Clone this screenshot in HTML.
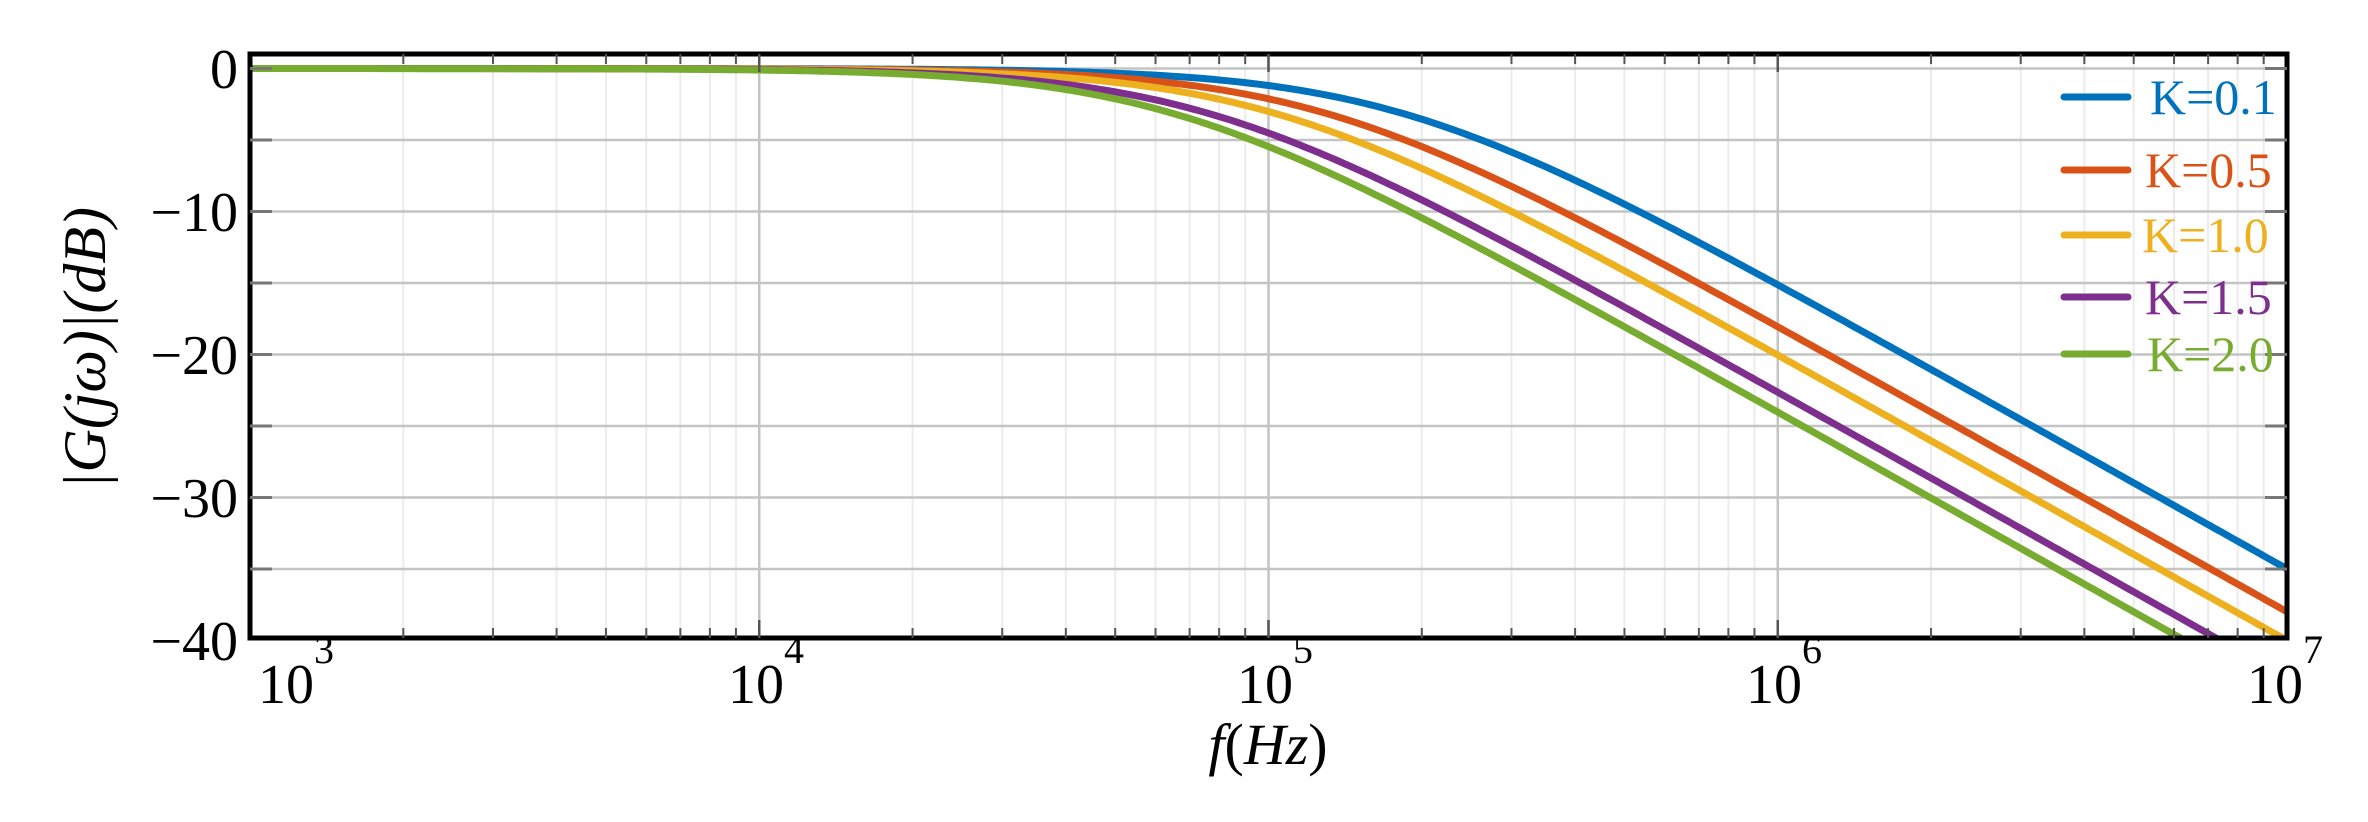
<!DOCTYPE html>
<html><head><meta charset="utf-8"><style>
html,body{margin:0;padding:0;background:#fff;}
svg{display:block;}
text{font-family:"Liberation Serif",serif;}
</style></head><body>
<svg id="s" width="2368" height="822" viewBox="0 0 2368 822" xmlns="http://www.w3.org/2000/svg">
<defs><clipPath id="c"><rect x="250" y="54" width="2037" height="584"/></clipPath></defs>
<g id="grid"></g>
<g id="curves" clip-path="url(#c)"></g>
<rect x="250" y="54" width="2037" height="584" fill="none" stroke="#000" stroke-width="5"/>
<g id="ticks"></g>
<g font-size="56" text-anchor="end" fill="#000">
<text x="238" y="88">0</text>
<text x="238" y="231">−10</text>
<text x="238" y="374">−20</text>
<text x="238" y="517">−30</text>
<text x="238" y="660">−40</text>
</g>
<g font-size="56" fill="#000">
<text x="258" y="703">10<tspan font-size="40" dy="-40">3</tspan></text>
<text x="728" y="703">10<tspan font-size="40" dy="-40">4</tspan></text>
<text x="1237" y="703">10<tspan font-size="40" dy="-40">5</tspan></text>
<text x="1746" y="703">10<tspan font-size="40" dy="-40">6</tspan></text>
<text x="2247" y="703">10<tspan font-size="40" dy="-40">7</tspan></text>
</g>
<text x="1268" y="764" font-size="58" font-style="italic" text-anchor="middle">f<tspan font-style="normal">(</tspan>Hz<tspan font-style="normal">)</tspan></text>
<text transform="translate(105,348) rotate(-90)" font-size="60" font-style="italic" text-anchor="middle">|G(jω)|(dB)</text>
<g id="legend" font-size="50"></g>
</svg>
<script>
var NS="http://www.w3.org/2000/svg";
function el(p,t,a,txt){var e=document.createElementNS(NS,t);for(var k in a)e.setAttribute(k,a[k]);if(txt)e.textContent=txt;document.getElementById(p).appendChild(e);return e;}
var L=250,R=2287,D=509.25,Y0=68.5,S=14.3;
function X(f){return L+(Math.log10(f)-3)*D;}
function Y(db){return Y0-db*S;}
for(var d=3;d<7;d++){for(var m=2;m<=9;m++){var x=X(m*Math.pow(10,d));
el("grid","line",{x1:x,x2:x,y1:54,y2:638,stroke:"#ececec","stroke-width":2});
el("ticks","line",{x1:x,x2:x,y1:54,y2:64,stroke:"#555","stroke-width":2});
el("ticks","line",{x1:x,x2:x,y1:638,y2:628,stroke:"#555","stroke-width":2});}}
for(var d=4;d<7;d++){var x=X(Math.pow(10,d));
el("grid","line",{x1:x,x2:x,y1:54,y2:638,stroke:"#c4c4c4","stroke-width":2.5});
el("ticks","line",{x1:x,x2:x,y1:54,y2:72,stroke:"#555","stroke-width":2.5});
el("ticks","line",{x1:x,x2:x,y1:638,y2:620,stroke:"#555","stroke-width":2.5});}
for(var db=0;db>=-35;db-=5){var y=Y(db);
el("grid","line",{x1:250,x2:2287,y1:y,y2:y,stroke:"#c4c4c4","stroke-width":2.5});
el("ticks","line",{x1:250,x2:272,y1:y,y2:y,stroke:"#777","stroke-width":3});
el("ticks","line",{x1:2287,x2:2265,y1:y,y2:y,stroke:"#777","stroke-width":3});}
var cs=[["#0072BD",1.78e5,"K=0.1",97,2150],["#D95319",1.26e5,"K=0.5",170,2145],["#EDB120",1.0e5,"K=1.0",235,2142],["#7E2F8E",7.4e4,"K=1.5",297,2145],["#77AC30",6.3e4,"K=2.0",354,2147]];
cs.forEach(function(c){var p="";for(var i=0;i<=400;i++){var lf=3+4*i/400,f=Math.pow(10,lf);var db=-10*Math.log10(1+(f/c[1])*(f/c[1]));p+=(i?"L":"M")+X(f).toFixed(1)+","+Y(db).toFixed(1);}
el("curves","path",{d:p,fill:"none",stroke:c[0],"stroke-width":7});
el("legend","line",{x1:2064,x2:2128,y1:c[3],y2:c[3],stroke:c[0],"stroke-width":7,"stroke-linecap":"round"});
el("legend","text",{x:c[4],y:c[3]+17,fill:c[0]},c[2]);});
</script>
</body></html>
